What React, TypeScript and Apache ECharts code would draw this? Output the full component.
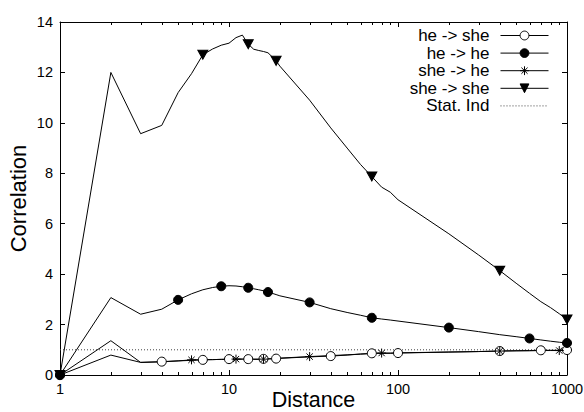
import React, { useEffect, useRef } from "react";
import * as echarts from "echarts";

// Distances (x values) of the samples
const distances = [
  1, 2, 3, 4, 5, 6, 7, 8, 9, 10, 11, 12, 13, 14, 15, 16, 17, 18, 19, 20,
  30, 40, 50, 60, 70, 80, 90, 100,
  200, 300, 400, 500, 600, 700, 800, 900, 1000,
];

const heToShe = [
  0, 0.79, 0.5, 0.53, 0.56, 0.58, 0.6, 0.61, 0.62, 0.63, 0.63, 0.63, 0.63, 0.63, 0.63, 0.64, 0.64, 0.64, 0.65, 0.66,
  0.72, 0.75, 0.79, 0.83, 0.86, 0.86, 0.86, 0.87,
  0.91, 0.93, 0.95, 0.96, 0.97, 0.98, 0.98, 0.98, 0.99,
];

const heToHe = [
  0, 3.07, 2.41, 2.61, 2.98, 3.22, 3.38, 3.47, 3.52, 3.54, 3.53, 3.5, 3.46, 3.42, 3.38, 3.34, 3.29, 3.24, 3.19, 3.14,
  2.88, 2.63, 2.48, 2.37, 2.27, 2.22, 2.18, 2.14,
  1.88, 1.72, 1.6, 1.52, 1.45, 1.39, 1.34, 1.3, 1.27,
];

const sheToHe = [
  0, 1.36, 0.5, 0.52, 0.56, 0.6, 0.61, 0.61, 0.62, 0.62, 0.63, 0.63, 0.63, 0.62, 0.62, 0.63, 0.64, 0.65, 0.66, 0.67,
  0.73, 0.77, 0.8, 0.83, 0.85, 0.87, 0.87, 0.88,
  0.91, 0.93, 0.95, 0.96, 0.96, 0.97, 0.97, 0.97, 0.98,
];

const sheToShe = [
  0, 12.0, 9.57, 9.9, 11.2, 11.95, 12.7, 12.93, 13.08, 13.16, 13.38, 13.48, 13.12, 12.92, 12.87, 12.83, 12.78, 12.62, 12.46, 12.25,
  10.9, 9.8, 9.0, 8.35, 7.87, 7.45, 7.25, 6.95,
  5.6, 4.76, 4.14, 3.64, 3.24, 2.91, 2.67, 2.43, 2.2,
];

const statIndX = [1, 1000];
const statIndY = [1, 1];

const minorTickValues = [2, 3, 4, 5, 6, 7, 8, 9, 20, 30, 40, 50, 60, 70, 80, 90, 200, 300, 400, 500, 600, 700, 800, 900];

const seriesNames = ["he -> she", "he -> he", "she -> he", "she -> she", "Stat. Ind"];
const markerEvery = [3, 4, 5, 6];

const FONT = "'Liberation Sans', Arial, Helvetica, sans-serif";
const ASTERISK = "path://M5,0L5,10M0,5L10,5M1.5,1.5L8.5,8.5M1.5,8.5L8.5,1.5";
const TRI_DOWN = "path://M0,0L10,0L5,8.66Z";

function makeData(values: number[], every: number, symbol: string) {
  return distances.map((d, i) => ({
    value: [d, values[i]],
    symbol: i % every === 0 ? symbol : "none",
  }));
}

export default function App() {
  const ref = useRef<HTMLDivElement>(null);
  useEffect(() => {
    if (!ref.current) return;
    const chart = echarts.init(ref.current, undefined, { renderer: "svg" });
    const lineBase = {
      type: "line" as const,
      showSymbol: true,
      showAllSymbol: true,
      lineStyle: { color: "#000", width: 1 },
      emphasis: { disabled: true },
      z: 3,
    };
    const axisCommonX = {
      type: "log" as const,
      logBase: 10,
      min: 1,
      max: 1000,
      splitLine: { show: false },
      axisLine: { show: true, onZero: false, lineStyle: { color: "#000", width: 1 } },
      axisTick: { show: true, inside: true, length: 5, lineStyle: { color: "#000" } },
    };
    const axisCommonY = {
      type: "value" as const,
      min: 0,
      max: 14,
      interval: 2,
      splitLine: { show: false },
      axisLine: { show: true, onZero: false, lineStyle: { color: "#000", width: 1 } },
      axisTick: { show: true, inside: true, length: 5, lineStyle: { color: "#000" } },
    };
    chart.setOption({
      animation: false,
      backgroundColor: "#fff",
      textStyle: { fontFamily: FONT },
      grid: { left: 60, right: 17, top: 22, bottom: 37, containLabel: false, outerBoundsMode: "none" },
      legend: {
        orient: "vertical",
        align: "right",
        right: 35,
        top: 27,
        padding: 0,
        itemGap: 0.6,
        itemWidth: 48,
        itemHeight: 11,
        selectedMode: false,
        textStyle: { fontSize: 17, color: "#000", fontFamily: FONT, padding: [0, 6, 0, 0] },
        itemStyle: { borderWidth: 1 },
        lineStyle: { width: 1 },
        data: [
          seriesNames[0],
          seriesNames[1],
          seriesNames[2],
          seriesNames[3],
          { name: seriesNames[4], itemStyle: { color: "rgba(0,0,0,0)", borderColor: "rgba(0,0,0,0)", borderWidth: 0 } },
        ],
      },
      xAxis: [
        {
          ...axisCommonX,
          position: "bottom",
          name: "Distance",
          nameLocation: "middle",
          nameGap: 14,
          nameMoveOverlap: false,
          nameTextStyle: { fontSize: 21.5, color: "#000", fontFamily: FONT, lineHeight: 21 },
          axisLabel: {
            show: true,
            color: "#000",
            fontSize: 14.5,
            margin: 6,
            fontFamily: FONT,
            formatter: (v: number) => String(v),
          },
        },
        {
          ...axisCommonX,
          position: "top",
          axisLabel: { show: false },
        },
      ],
      yAxis: [
        {
          ...axisCommonY,
          position: "left",
          name: "Correlation",
          nameLocation: "middle",
          nameGap: 31,
          nameMoveOverlap: false,
          nameTextStyle: { fontSize: 22, color: "#000", fontFamily: FONT },
          axisLabel: { show: true, color: "#000", fontSize: 14.5, margin: 7, fontFamily: FONT },
        },
        {
          ...axisCommonY,
          position: "right",
          axisLabel: { show: false },
        },
      ],
      series: [
        {
          ...lineBase,
          name: seriesNames[0],
          symbol: "circle",
          symbolSize: 9,
          itemStyle: { color: "#fff", borderColor: "#000", borderWidth: 1 },
          data: makeData(heToShe, markerEvery[0], "circle"),
        },
        {
          ...lineBase,
          name: seriesNames[1],
          symbol: "circle",
          symbolSize: 9,
          itemStyle: { color: "#000", borderColor: "#000", borderWidth: 1 },
          data: makeData(heToHe, markerEvery[1], "circle"),
        },
        {
          ...lineBase,
          name: seriesNames[2],
          symbol: ASTERISK,
          symbolSize: 9,
          itemStyle: { color: "#000", borderColor: "#000", borderWidth: 1 },
          data: makeData(sheToHe, markerEvery[2], ASTERISK),
        },
        {
          ...lineBase,
          name: seriesNames[3],
          symbol: TRI_DOWN,
          symbolSize: [10, 9],
          itemStyle: { color: "#000", borderColor: "#000", borderWidth: 1 },
          data: makeData(sheToShe, markerEvery[3], TRI_DOWN),
        },
        {
          type: "line",
          name: seriesNames[4],
          symbol: "none",
          lineStyle: { color: "#444", width: 1, type: [1, 2] },
          emphasis: { disabled: true },
          z: 2,
          data: statIndX.map((x, i) => [x, statIndY[i]]),
        },
        {
          type: "custom",
          name: "minorTicks",
          silent: true,
          z: 4,
          data: minorTickValues.map((v) => [v, 0]),
          renderItem: (_params: any, api: any) => {
            const x = api.value(0);
            const b = api.coord([x, 0]);
            const t = api.coord([x, 14]);
            const px = Math.round(b[0]) + 0.5;
            return {
              type: "group",
              children: [
                { type: "line", shape: { x1: px, y1: b[1], x2: px, y2: b[1] - 3 }, style: { stroke: "#000", lineWidth: 1 } },
                { type: "line", shape: { x1: px, y1: t[1], x2: px, y2: t[1] + 3 }, style: { stroke: "#000", lineWidth: 1 } },
              ],
            };
          },
        },
      ],
    });
    return () => chart.dispose();
  }, []);
  return <div ref={ref} style={{ width: 584, height: 412, position: "absolute", left: 0, top: 0 }} />;
}
